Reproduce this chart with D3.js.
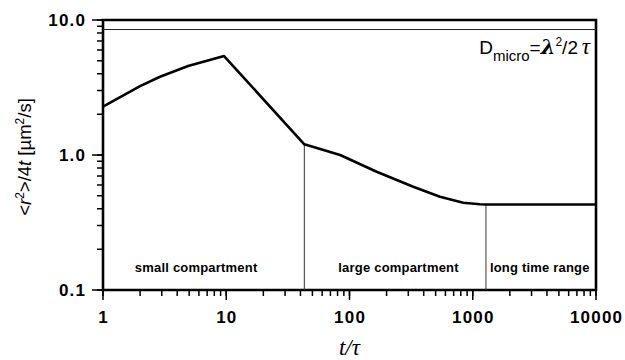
<!DOCTYPE html>
<html>
<head>
<meta charset="utf-8">
<script src="https://cdn.jsdelivr.net/npm/d3@7"></script>
<style>
  body { margin: 0; background: #fff; }
  svg { display: block; font-family: Arial, "Liberation Sans", sans-serif; }
</style>
</head>
<body>
<script>
// data
var curveT = [1, 2, 2.9, 4.9, 9.6, 43, 84, 166, 329, 542, 838, 1145, 1280, 10000];
var curveD = [2.28, 3.24, 3.8, 4.56, 5.41, 1.2, 1.0, 0.752, 0.582, 0.491, 0.443, 0.432, 0.43, 0.43];
var dMicro = 8.5;
var boundaryT = [43, 1280];
var boundaryD = [1.2, 0.43];
var regionNames = ["small compartment", "large compartment", "long time range"];
var regionLabelT = [5.7, 250, 3500];
var xMajor = [1, 10, 100, 1000, 10000];
var xMajorLabels = ["1", "10", "100", "1000", "10000"];
var yMajor = [0.1, 1, 10];
var yMajorLabels = ["0.1", "1.0", "10.0"];

var width = 625,
    height = 360,
    margin = {top: 20, right: 29, bottom: 70, left: 103};

var svg = d3.select("body").append("svg")
  .attr("width", width).attr("height", height);

var x = d3.scaleLog().domain([1, 10000]).range([margin.left, width - margin.right]);
var y = d3.scaleLog().domain([0.1, 10]).range([height - margin.bottom, margin.top]);

var x0 = x.range()[0], x1 = x.range()[1], y0 = y.range()[0], y1 = y.range()[1];

// ticks drawn as one path each
function yTickPath(vals, len) {
  return vals.map(function(d) { return "M" + (x0 - len) + "," + y(d) + "H" + x0; }).join("");
}
function xTickPath(vals, len) {
  return vals.map(function(d) { return "M" + x(d) + "," + y0 + "V" + (y0 + len); }).join("");
}
svg.append("path").attr("class", "tick-minor")
  .attr("d", yTickPath(y.ticks(), 6) + xTickPath(x.ticks(), 6))
  .attr("fill", "none").attr("stroke", "#000").attr("stroke-width", 1.5);
svg.append("path").attr("class", "tick-major")
  .attr("d", yTickPath(yMajor, 11) + xTickPath(xMajor, 10))
  .attr("fill", "none").attr("stroke", "#000").attr("stroke-width", 1.5);

// tick labels
svg.selectAll(".ylab").data(yMajor).enter().append("text")
  .attr("x", x0 - 18 + 1.2).attr("y", function(d) { return y(d); })
  .attr("dy", "0.35em")
  .attr("text-anchor", "end")
  .attr("font-size", 17).attr("font-weight", "bold").attr("letter-spacing", 1.2)
  .text(function(d, i) { return yMajorLabels[i]; });

svg.selectAll(".xlab").data(xMajor).enter().append("text")
  .attr("x", function(d) { return x(d) + 0.6; }).attr("y", y0 + 33)
  .attr("text-anchor", "middle")
  .attr("font-size", 17).attr("font-weight", "bold").attr("letter-spacing", 1.2)
  .text(function(d, i) { return xMajorLabels[i]; });

// frame
svg.append("path")
  .attr("d", "M" + x0 + "," + y0 + "V" + y1 + "H" + x1 + "V" + y0 + "Z")
  .attr("fill", "none").attr("stroke", "#000").attr("stroke-width", 2.6);

// D_micro line
svg.append("line")
  .attr("x1", x0).attr("x2", x1)
  .attr("y1", y(dMicro)).attr("y2", y(dMicro))
  .attr("stroke", "#222").attr("stroke-width", 1);

// boundaries
svg.selectAll(".bound").data(boundaryT).enter().append("line")
  .attr("class", "bound")
  .attr("x1", function(d) { return x(d); }).attr("x2", function(d) { return x(d); })
  .attr("y1", function(d, i) { return y(boundaryD[i]); }).attr("y2", y0)
  .attr("stroke", "#333").attr("stroke-width", 1);

// curve
var pts = curveT.map(function(t, i) { return [t, curveD[i]]; });
svg.append("path")
  .datum(pts)
  .attr("d", d3.line().x(function(d) { return x(d[0]); }).y(function(d) { return y(d[1]); }))
  .attr("fill", "none").attr("stroke", "#000").attr("stroke-width", 2.6)
  .attr("stroke-linejoin", "round");

// region labels
svg.selectAll(".region").data(regionNames).enter().append("text")
  .attr("class", "region")
  .attr("x", function(d, i) { return x(regionLabelT[i]); })
  .attr("y", 272)
  .attr("text-anchor", "middle")
  .attr("font-size", 13).attr("font-weight", "bold")
  .attr("letter-spacing", 0.2)
  .text(function(d) { return d; });

// annotation
var ann = svg.append("text")
  .attr("x", x1 - 6).attr("y", 54)
  .attr("text-anchor", "end")
  .attr("font-size", 19);
ann.append("tspan").text("D");
ann.append("tspan").attr("font-size", 15).attr("dy", 7).text("micro");
ann.append("tspan").attr("dy", -7).text("=");
ann.append("tspan").attr("font-style", "italic").attr("font-weight", "bold")
  .attr("font-family", "'DejaVu Serif', serif").attr("font-size", 21).text("\u03bb");
ann.append("tspan").attr("font-size", 12).attr("dy", -8).text("2");
ann.append("tspan").attr("dy", 8).text("/2\u2009");
ann.append("tspan").attr("font-style", "italic").attr("font-family", "'Liberation Serif', serif")
  .attr("font-size", 23).text("\u03c4");

// axis titles
var yl = svg.append("text")
  .attr("transform", "translate(31," + (margin.top + (y0 - y1) / 2 + 2) + ") rotate(-90)")
  .attr("text-anchor", "middle")
  .attr("font-size", 18.5);
yl.append("tspan").text("<");
yl.append("tspan").attr("font-style", "italic").text("r");
yl.append("tspan").attr("font-size", 12).attr("dy", -7).text("2");
yl.append("tspan").attr("dy", 7).text(">/4");
yl.append("tspan").attr("font-style", "italic").text("t");
yl.append("tspan").text(" [\u00b5m");
yl.append("tspan").attr("font-size", 12).attr("dy", -7).text("2");
yl.append("tspan").attr("dy", 7).text("/s]");

svg.append("text")
  .attr("x", (x0 + x1) / 2).attr("y", 355)
  .attr("text-anchor", "middle")
  .attr("font-family", "'Liberation Serif', 'Times New Roman', serif")
  .attr("font-style", "italic").attr("font-size", 23)
  .text("t/\u03c4");
</script>
</body>
</html>
